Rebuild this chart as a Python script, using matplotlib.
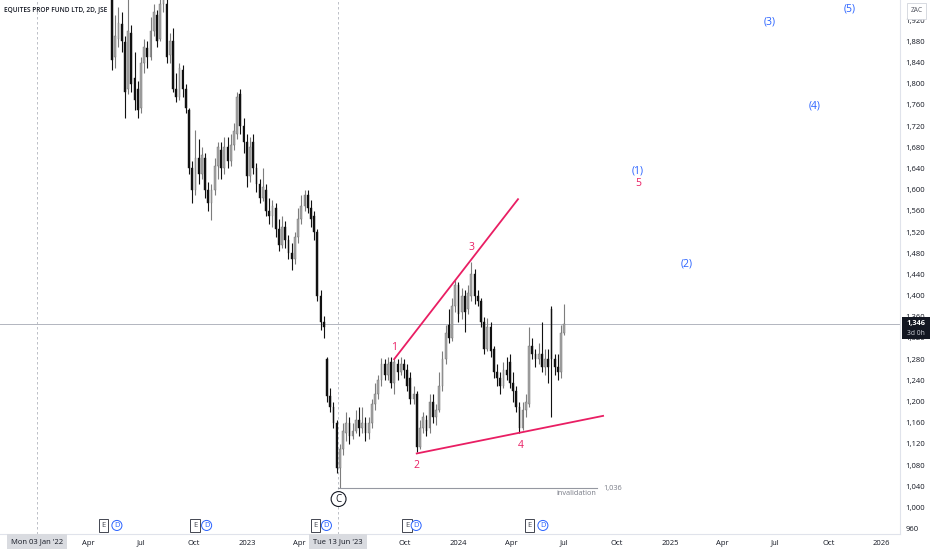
import numpy as np
import pandas as pd
import matplotlib
matplotlib.use('Agg')
import matplotlib.pyplot as plt
import matplotlib.dates as mdates
import matplotlib.transforms as mtransforms
from matplotlib.patches import Rectangle

plt.rcParams['font.family'] = ['Open Sans', 'DejaVu Sans']

# 2D candles (ZAc), May 2022 -> Jul 2024
opens = [1990, 1958, 1850, 1885, 1912, 1878, 1790, 1895, 1810, 1790,
         1755, 1840, 1868, 1850, 1900, 1930, 1885, 1950, 1950, 1855,
         1880, 1790, 1775, 1825, 1790, 1750, 1640, 1600, 1660, 1630,
         1660, 1600, 1575, 1600, 1645, 1675, 1640, 1680, 1655, 1685,
         1705, 1780, 1720, 1690, 1625, 1690, 1640, 1610, 1585, 1600,
         1560, 1550, 1565, 1525, 1495, 1530, 1505, 1480, 1470, 1510,
         1545, 1570, 1590, 1565, 1550, 1520, 1400, 1350, 1280, 1210,
         1190, 1160, 1075, 1110, 1140, 1160, 1135, 1145, 1165, 1150,
         1160, 1140, 1160, 1195, 1215, 1240, 1270, 1250, 1275, 1235,
         1270, 1255, 1270, 1260, 1245, 1205, 1215, 1115, 1150, 1165,
         1150, 1200, 1170, 1185, 1230, 1280, 1345, 1320, 1380, 1420,
         1370, 1400, 1375, 1400, 1440, 1400, 1390, 1350, 1300, 1340,
         1300, 1255, 1245, 1230, 1260, 1275, 1235, 1220, 1190, 1150,
         1185, 1195, 1305, 1290, 1280, 1290, 1265, 1280, 1375, 1280,
         1265, 1255, 1330]
highs = [2010, 1975, 1930, 1945, 1935, 1890, 1965, 1910, 1860, 1805,
         1850, 1885, 1880, 1925, 1950, 1940, 1990, 2000, 1965, 1895,
         1905, 1820, 1840, 1835, 1800, 1755, 1655, 1712, 1695, 1680,
         1670, 1615, 1610, 1660, 1690, 1690, 1700, 1700, 1705, 1725,
         1785, 1790, 1735, 1705, 1700, 1705, 1650, 1620, 1640, 1610,
         1585, 1580, 1575, 1545, 1550, 1540, 1515, 1500, 1520, 1565,
         1590, 1600, 1600, 1580, 1560, 1525, 1410, 1362, 1285, 1225,
         1200, 1165, 1120, 1160, 1180, 1170, 1160, 1185, 1190, 1190,
         1170, 1170, 1205, 1235, 1250, 1282, 1280, 1285, 1285, 1280,
         1280, 1285, 1280, 1270, 1255, 1230, 1220, 1165, 1180, 1175,
         1215, 1215, 1195, 1255, 1295, 1345, 1375, 1395, 1432, 1425,
         1415, 1410, 1420, 1463, 1450, 1410, 1395, 1360, 1358, 1350,
         1305, 1270, 1255, 1275, 1285, 1290, 1255, 1230, 1200, 1200,
         1215, 1340, 1320, 1300, 1310, 1350, 1300, 1300, 1380, 1290,
         1290, 1345, 1384]
lows = [1962, 1826, 1830, 1870, 1860, 1735, 1780, 1785, 1750, 1735,
        1745, 1820, 1830, 1845, 1890, 1870, 1880, 1935, 1840, 1840,
        1785, 1765, 1770, 1775, 1745, 1630, 1575, 1590, 1610, 1620,
        1585, 1560, 1543, 1590, 1620, 1620, 1630, 1640, 1645, 1675,
        1695, 1705, 1670, 1605, 1615, 1630, 1595, 1575, 1578, 1550,
        1535, 1530, 1510, 1485, 1490, 1490, 1470, 1448, 1460, 1500,
        1535, 1560, 1555, 1530, 1505, 1390, 1335, 1320, 1200, 1180,
        1150, 1065, 1036, 1100, 1125, 1120, 1130, 1140, 1135, 1140,
        1125, 1130, 1150, 1185, 1205, 1230, 1240, 1240, 1225, 1215,
        1240, 1250, 1245, 1220, 1195, 1195, 1105, 1110, 1140, 1135,
        1140, 1160, 1155, 1180, 1220, 1270, 1310, 1315, 1370, 1350,
        1355, 1331, 1365, 1390, 1385, 1380, 1340, 1290, 1295, 1285,
        1245, 1230, 1215, 1225, 1240, 1225, 1200, 1180, 1140, 1146,
        1170, 1190, 1280, 1265, 1270, 1255, 1250, 1235, 1170, 1250,
        1240, 1245, 1325]
closes = [1975, 1845, 1890, 1915, 1880, 1785, 1900, 1800, 1770, 1750,
          1840, 1870, 1850, 1900, 1935, 1880, 1950, 1960, 1850, 1880,
          1790, 1775, 1830, 1790, 1755, 1640, 1600, 1660, 1630, 1665,
          1600, 1575, 1600, 1645, 1680, 1640, 1680, 1655, 1685, 1710,
          1775, 1720, 1690, 1625, 1680, 1640, 1610, 1585, 1605, 1560,
          1550, 1570, 1525, 1495, 1530, 1505, 1480, 1470, 1510, 1545,
          1570, 1590, 1565, 1545, 1520, 1400, 1350, 1340, 1210, 1190,
          1160, 1075, 1110, 1145, 1160, 1135, 1145, 1165, 1150, 1160,
          1140, 1160, 1195, 1215, 1240, 1270, 1250, 1270, 1235, 1275,
          1255, 1270, 1260, 1230, 1205, 1215, 1115, 1150, 1170, 1145,
          1200, 1170, 1185, 1230, 1280, 1330, 1320, 1380, 1420, 1365,
          1400, 1370, 1405, 1440, 1400, 1390, 1350, 1300, 1340, 1295,
          1255, 1245, 1230, 1260, 1250, 1235, 1220, 1190, 1150, 1185,
          1200, 1305, 1290, 1280, 1290, 1265, 1280, 1265, 1280, 1265,
          1255, 1330, 1346]
last_bar = '2024-07-02'
last_price = 1346

# Elliott wave annotation
wave_pts = ['2023-09-12', '2023-10-21', '2024-01-24', '2024-04-18', '2024-11-06']
wave_prices = [1302, 1080, 1490, 1118, 1611]
wave_labels = ['1', '2', '3', '4', '5']
big_pts = ['2024-11-06', '2025-01-29', '2025-06-22', '2025-09-08', '2025-11-07']
big_prices = [1635, 1460, 1916, 1758, 1941]
big_labels = ['(1)', '(2)', '(3)', '(4)', '(5)']
upper_line = (['2023-09-12', '2024-04-13'], [1280, 1582])
lower_line = (['2023-10-21', '2024-09-07'], [1102, 1173])
invalid_dates = ['2023-06-07', '2024-08-28']
invalid_price = 1036

e_dates = ['2022-04-28', '2022-10-03', '2023-04-29', '2023-10-04', '2024-05-03']
d_dates = ['2022-05-21', '2022-10-23', '2023-05-18', '2023-10-20', '2024-05-26']

month_ticks = ['2022-04-01', '2022-07-01', '2022-10-01', '2023-01-01', '2023-04-01',
               '2023-10-01', '2024-01-01', '2024-04-01', '2024-07-01', '2024-10-01',
               '2025-01-01', '2025-04-01', '2025-07-01', '2025-10-01', '2026-01-01']
month_labels = ['Apr', 'Jul', 'Oct', '2023', 'Apr', 'Oct', '2024', 'Apr', 'Jul', 'Oct',
                '2025', 'Apr', 'Jul', 'Oct', '2026']

RED = '#e91e63'
BLUE = '#2962ff'
TXT = '#131722'

def d(s):
    return mdates.date2num(pd.Timestamp(s))

fig = plt.figure(figsize=(9.32, 5.5), dpi=100)
ax = fig.add_axes([0, 16 / 550, 900 / 932, 534 / 550])
ax.set_xlim(d('2021-10-31'), d('2026-02-02'))
ax.set_ylim(950, 1958)

x = mdates.date2num(pd.date_range(end=last_bar, periods=len(closes), freq='133h'))
o = np.array(opens)
h = np.array(highs)
l = np.array(lows)
c = np.array(closes)
up = c >= o
wick_cols = np.where(up, '#7d7d7d', '#111111')
body_cols = np.where(up, '#a6a6a6', '#111111')
edge_cols = np.where(up, '#707070', '#111111')
ax.vlines(x, l, h, colors=wick_cols, linewidth=0.8, zorder=2)
ax.bar(x, np.maximum(np.abs(c - o), 3), bottom=np.minimum(o, c), width=3.0,
       color=body_cols, edgecolor=edge_cols, linewidth=0.3, zorder=3)

# crosshair-style dashed verticals
for dt in ['2022-01-03', '2023-06-07']:
    ax.axvline(d(dt), color='#b2b5be', lw=0.6, ls=(0, (3, 3)), zorder=1)

ax.axhline(last_price, color='#b2b5be', lw=0.7, zorder=1)

ax.plot([d(s) for s in upper_line[0]], upper_line[1], color=RED, lw=1.3, zorder=4)
ax.plot([d(s) for s in lower_line[0]], lower_line[1], color=RED, lw=1.3, zorder=4)

for s, p, t in zip(wave_pts, wave_prices, wave_labels):
    ax.text(d(s), p, t, color=RED, fontsize=7.5, ha='center', va='center')
for s, p, t in zip(big_pts, big_prices, big_labels):
    ax.text(d(s), p, t, color=BLUE, fontsize=7.5, ha='center', va='center')

# invalidation level
ax.plot([d(s) for s in invalid_dates], [invalid_price] * 2, color='#9598a1', lw=0.8)
ax.text(d('2024-09-07'), invalid_price, f'{invalid_price:,}', color='#787b86',
        fontsize=5.3, ha='left', va='center')
ax.text(d('2024-08-27'), 1026, 'invalidation', color='#787b86',
        fontsize=5.3, ha='right', va='center')
ax.text(d('2023-06-08'), 1016, 'C', color=TXT, fontsize=7, ha='center', va='center',
        bbox=dict(boxstyle='circle,pad=0.2', fc='white', ec=TXT, lw=0.8), zorder=5)

# earnings / dividend markers
trans = mtransforms.blended_transform_factory(ax.transData, ax.transAxes)
for s in e_dates:
    ax.text(d(s), 0.016, 'E', transform=trans, fontsize=5.5, color='#434651',
            ha='center', va='center',
            bbox=dict(boxstyle='square,pad=0.35', fc='white', ec='#434651', lw=0.7))
for s in d_dates:
    ax.text(d(s), 0.016, 'D', transform=trans, fontsize=5.5, color=BLUE,
            ha='center', va='center',
            bbox=dict(boxstyle='circle,pad=0.2', fc='white', ec=BLUE, lw=0.7))

# axes styling
for sp in ['top', 'left']:
    ax.spines[sp].set_visible(False)
for sp in ['right', 'bottom']:
    ax.spines[sp].set_color('#e0e3eb')
    ax.spines[sp].set_linewidth(0.8)

ax.set_xticks([d(s) for s in month_ticks])
ax.set_xticklabels(month_labels)
ax.tick_params(axis='x', length=0, pad=4, labelsize=5.5, labelcolor=TXT)

ax.yaxis.tick_right()
yt = np.arange(960, 1921, 40)
ax.set_yticks(yt)
ax.set_yticklabels([f'{v:,}' for v in yt])
ax.tick_params(axis='y', length=0, pad=4, labelsize=5.5, labelcolor=TXT)

for s, t in [('2022-01-03', "Mon 03 Jan '22"), ('2023-06-07', "Tue 13 Jun '23")]:
    ax.text(d(s), -0.014, t, transform=trans, fontsize=5.5, color=TXT, ha='center',
            va='center', clip_on=False, zorder=6,
            bbox=dict(boxstyle='square,pad=0.5', fc='#d9dbe0', ec='none'))

# title
fig.text(4 / 932, 1 - 10 / 550, 'EQUITES PROP FUND LTD, 2D, JSE', fontsize=4.7,
         fontweight='semibold', color=TXT, ha='left', va='center')

# currency box and last price box on the price scale
fig.add_artist(Rectangle((907 / 932, 1 - 19 / 550), 19 / 932, 16 / 550,
                         transform=fig.transFigure, fc='white', ec='#d1d4dc',
                         lw=0.6, zorder=5))
fig.text(916.5 / 932, 1 - 11 / 550, 'ZAC', fontsize=4.8, color='#50535e',
         ha='center', va='center', zorder=6)
fig.add_artist(Rectangle((902 / 932, 1 - 339 / 550), 28 / 932, 22 / 550,
                         transform=fig.transFigure, fc='#131722', ec='none', zorder=5))
fig.text(916 / 932, 1 - 323 / 550, f'{last_price:,}', fontsize=5.3, color='white',
         fontweight='bold', ha='center', va='center', zorder=6)
fig.text(916 / 932, 1 - 333.5 / 550, '3d 0h', fontsize=4.8, color='#d1d4dc',
         ha='center', va='center', zorder=6)

fig.savefig('out.png', dpi=100)
